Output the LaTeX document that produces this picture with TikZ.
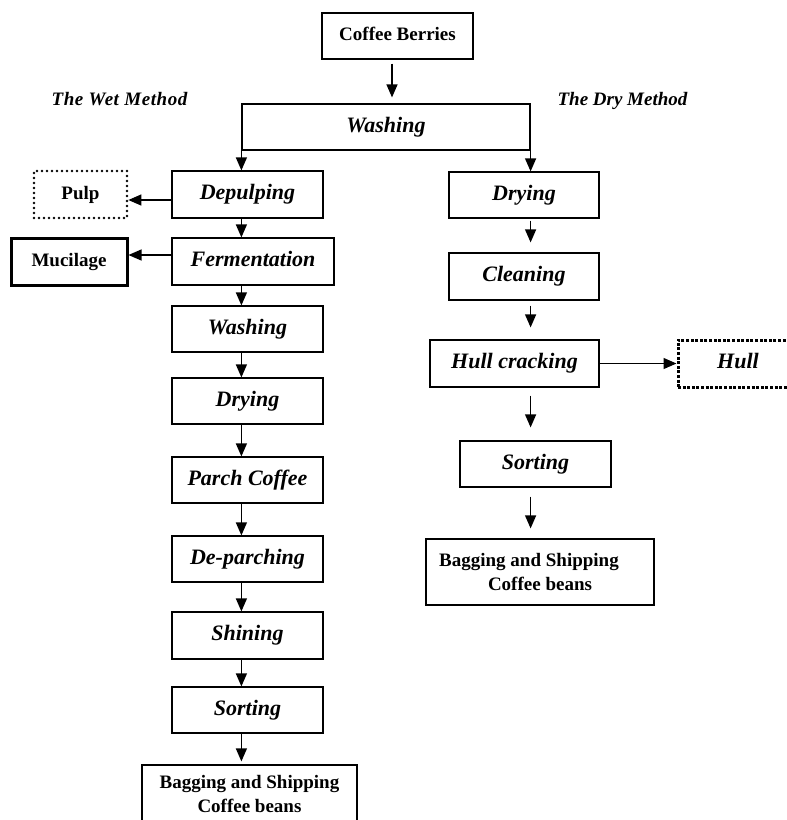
\documentclass[tikz,border=0pt]{standalone}
\usepackage{fontspec}
\setmainfont{Liberation Serif}
\usetikzlibrary{arrows.meta,calc}
\begin{document}
\begin{tikzpicture}[x=1pt,y=-1pt,
  box/.style={draw,line width=1.2pt,inner sep=0pt,minimum height=46pt,
    font=\fontsize{22}{26}\selectfont\bfseries\itshape,text height=15pt,text depth=5pt},
  bbox/.style={draw,line width=1.2pt,inner sep=0pt,minimum height=46pt,
    font=\fontsize{19}{23}\selectfont\bfseries,text height=13pt,text depth=4pt},
  bagbox/.style={draw,line width=1.2pt,inner sep=0pt,align=center,
    font=\fontsize{19}{23.5}\selectfont\bfseries},
  arr/.style={line width=1.2pt,-{Triangle[length=13pt,width=11pt]}},
  title/.style={font=\fontsize{19}{23}\selectfont\bfseries\itshape,anchor=base,inner sep=0pt},
  dotbox/.style={dash pattern=on 0pt off 5pt,line cap=round,line width=2.7pt},
  sqbox/.style={dash pattern=on 3pt off 1.6pt,line width=3pt}]
\fill[white] (0,0) rectangle (787,820);
\useasboundingbox (0,0) rectangle (787,820);

% top
\node[bbox,minimum width=151pt] (berries) at (397.5,36) {Coffee Berries};
\node[box,minimum width=288pt] (wash) at (386,127) {Washing};
\node[title] (wet) at (119.5,105) {\addfontfeature{LetterSpace=3}The Wet Method};
\node[title] (dry) at (622.5,105) {The Dry Method};

% wet column
\node[box,minimum width=151pt,minimum height=47pt] (depulp) at (247.5,194.5) {Depulping};
\node[bbox,dotbox,minimum width=93pt,minimum height=47pt] (pulp) at (80.5,194.5) {Pulp};
\node[box,minimum width=162pt,minimum height=47pt] (ferm) at (253,261.5) {Fermentation};
\node[bbox,line width=3pt,minimum width=116pt,minimum height=47pt] (muc) at (69,261.5) {Mucilage};
\node[box,minimum width=151pt] (wash2) at (247.5,329) {Washing};
\node[box,minimum width=151pt] (dry2) at (247.5,401) {Drying};
\node[box,minimum width=151pt] (parch) at (247.5,480) {Parch Coffee};
\node[box,minimum width=151pt] (depar) at (247.5,559) {De-parching};
\node[box,minimum width=151pt,minimum height=47pt] (shine) at (247.5,635.5) {Shining};
\node[box,minimum width=151pt] (sortL) at (247.5,710) {Sorting};
\node[bagbox,minimum width=215pt,minimum height=58pt] (bagL) at (249.5,794) {Bagging and Shipping\\Coffee beans};

% dry column
\node[box,minimum width=150pt] (dryR) at (524,195) {Drying};
\node[box,minimum width=150pt,minimum height=47pt] (clean) at (524,276.5) {Cleaning};
\node[box,minimum width=169pt,minimum height=47pt] (hullc) at (514.5,363.5) {Hull cracking};
\node[box,sqbox,minimum width=120pt,minimum height=47pt] (hull) at (738,363.5) {Hull};
\node[box,minimum width=151pt] (sortR) at (535.5,464) {Sorting};
\node[bagbox,minimum width=228pt,minimum height=66pt] (bagR) at (540,572) {Bagging and Shipping\hspace*{22pt}\\Coffee beans};

% connectors
\coordinate (ba) at ([xshift=-5.5pt,yshift=-4pt]berries.south);
\draw[arr,shorten >=6pt] (ba) -- (ba |- wash.north);
\draw[arr] (wash.north west) -- (wash.north west |- depulp.north);
\draw[arr] (wash.north east) -- (wash.north east |- dryR.north);

\foreach \a/\b in {depulp/ferm,ferm/wash2,wash2/dry2,dry2/parch,parch/depar,depar/shine,shine/sortL}
  \draw[arr] (\a.south -| wash.west) -- (\b.north -| wash.west);
\draw[arr,shorten >=3pt] (sortL.south -| wash.west) -- (bagL.north -| wash.west);

\coordinate (pa) at ([yshift=-5.5pt]depulp.west);
\draw[arr] (pa) -- (pa -| pulp.east);
\coordinate (ma) at ([yshift=6.5pt]ferm.west);
\draw[arr] (ma) -- (ma -| muc.east);

\draw[arr,shorten <=2pt,shorten >=10pt] (dryR.south -| wash.east) -- (clean.north -| wash.east);
\draw[arr,shorten <=5pt,shorten >=12pt] (clean.south -| wash.east) -- (hullc.north -| wash.east);
\draw[arr,shorten <=8pt,shorten >=13pt] (hullc.south -| wash.east) -- (sortR.north -| wash.east);
\draw[arr,shorten <=9pt,shorten >=10pt] (sortR.south -| wash.east) -- (bagR.north -| wash.east);
\draw[arr] (hullc.east) -- (hull.west);
\end{tikzpicture}
\end{document}
